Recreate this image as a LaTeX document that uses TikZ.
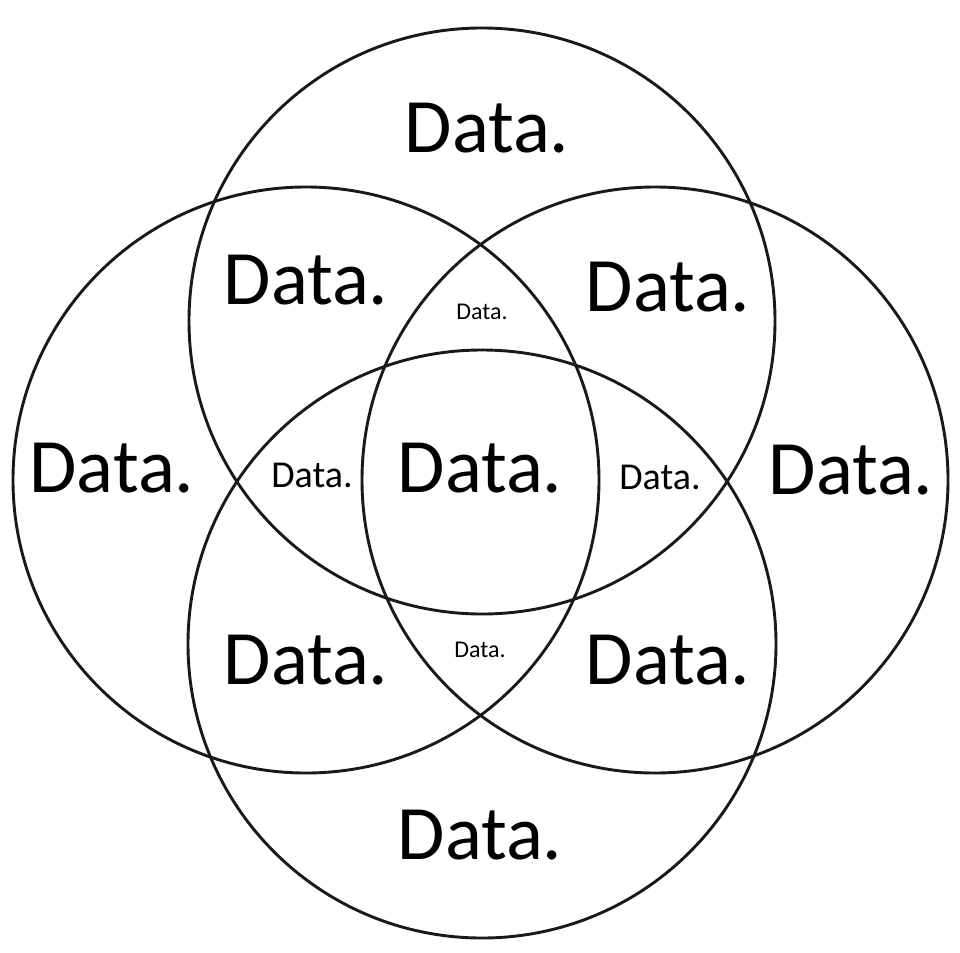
\documentclass[tikz,border=0pt]{standalone}
\usepackage{fontspec}
\setmainfont{Carlito}
\begin{document}
\begin{tikzpicture}[x=1pt,y=-1pt,
  ring/.style={draw=black!90, line width=2.9pt},
  big/.style={font=\fontsize{77}{80}\selectfont, inner sep=0pt},
  mid/.style={font=\fontsize{38}{42}\selectfont, inner sep=0pt},
  tiny/.style={font=\fontsize{24}{28}\selectfont, inner sep=0pt}]
\useasboundingbox (0,0) rectangle (960,952);
\fill[white] (0,0) rectangle (960,952);
\coordinate (cT) at (482,321);
\coordinate (cB) at (482,644);
\coordinate (cL) at (306,480);
\coordinate (cR) at (655,480);
\draw[ring] (cT) circle[radius=293];
\draw[ring] (cB) circle[radius=294];
\draw[ring] (cL) circle[radius=293];
\draw[ring] (cR) circle[radius=293];
\node[big] (t) at (487,128) {Data.};
\node[big] (ul) at (306,280) {Data.};
\node[big] (ur) at (668,287) {Data.};
\node[tiny] (st) at (482,312) {Data.};
\node[big] (l) at (112,468) {Data.};
\node[mid] (sl) at (312,475) {Data.};
\node[big] (c) at (480,468) {Data.};
\node[mid] (sr) at (660,477) {Data.};
\node[big] (r) at (851,470) {Data.};
\node[big] (ll) at (306,660) {Data.};
\node[tiny] (sb) at (480,650) {Data.};
\node[big] (lr) at (668,660) {Data.};
\node[big] (b) at (480,835) {Data.};
\end{tikzpicture}
\end{document}
